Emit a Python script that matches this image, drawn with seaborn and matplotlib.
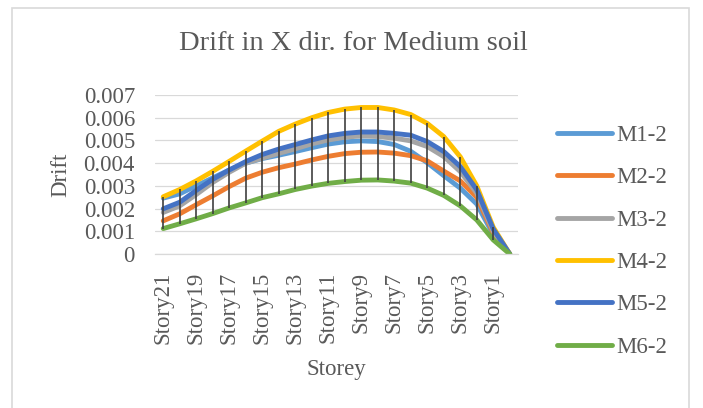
import numpy as np
import pandas as pd
import matplotlib
matplotlib.use("Agg")
import matplotlib.pyplot as plt
import seaborn as sns
from matplotlib.patches import Rectangle
from matplotlib.ticker import FuncFormatter

# ---------------- data ----------------
storeys = ["Story21", "Story20", "Story19", "Story18", "Story17", "Story16", "Story15",
           "Story14", "Story13", "Story12", "Story11", "Story10", "Story9", "Story8",
           "Story7", "Story6", "Story5", "Story4", "Story3", "Story2", "Story1", "Base"]

m1_2 = [0.00246, 0.00265, 0.00300, 0.00335, 0.00370, 0.00400, 0.00420, 0.00435, 0.00451, 0.00468, 0.00484,
        0.00494, 0.00498, 0.00495, 0.00482, 0.00452, 0.00402, 0.00345, 0.00290, 0.00220, 0.00085, 0.0]
m2_2 = [0.00146, 0.00177, 0.00217, 0.00256, 0.00297, 0.00334, 0.00360, 0.00380, 0.00396, 0.00414, 0.00430,
        0.00442, 0.00448, 0.00449, 0.00444, 0.00433, 0.00410, 0.00365, 0.00322, 0.00250, 0.00092, 0.0]
m3_2 = [0.00183, 0.00212, 0.00262, 0.00315, 0.00360, 0.00400, 0.00422, 0.00443, 0.00463, 0.00485, 0.00502,
        0.00514, 0.00520, 0.00517, 0.00510, 0.00498, 0.00473, 0.00429, 0.00363, 0.00268, 0.00100, 0.0]
m4_2 = [0.00252, 0.00284, 0.00322, 0.00364, 0.00408, 0.00453, 0.00497, 0.00540, 0.00572, 0.00600, 0.00623,
        0.00638, 0.00645, 0.00645, 0.00634, 0.00614, 0.00575, 0.00517, 0.00428, 0.00300, 0.00118, 0.0]
m5_2 = [0.00199, 0.00228, 0.00280, 0.00329, 0.00370, 0.00407, 0.00438, 0.00462, 0.00482, 0.00502, 0.00520,
        0.00531, 0.00537, 0.00537, 0.00531, 0.00523, 0.00495, 0.00451, 0.00385, 0.00283, 0.00110, 0.0]
m6_2 = [0.00112, 0.00133, 0.00155, 0.00178, 0.00203, 0.00225, 0.00248, 0.00265, 0.00284, 0.00299, 0.00311,
        0.00319, 0.00325, 0.00326, 0.00321, 0.00312, 0.00290, 0.00258, 0.00212, 0.00150, 0.00062, 0.0]

series_names = ["M1-2", "M2-2", "M3-2", "M4-2", "M5-2", "M6-2"]
series_values = [m1_2, m2_2, m3_2, m4_2, m5_2, m6_2]
colors = ["#5B9BD5", "#ED7D31", "#A5A5A5", "#FFC000", "#4472C4", "#70AD47"]

y_ticks = [0, 0.001, 0.002, 0.003, 0.004, 0.005, 0.006, 0.007]

title = "Drift in X dir. for Medium soil"
x_label = "Storey"
y_label = "Drift"

# ---------------- build table ----------------
frames = []
for name, vals in zip(series_names, series_values):
    frames.append(pd.DataFrame({"Storey": storeys, "Drift": vals, "Series": name}))
df = pd.concat(frames, ignore_index=True)

# ---------------- style ----------------
sns.set_theme(style="white")
plt.rcParams["font.family"] = ["Liberation Serif", "DejaVu Serif"]
text_color = "#595959"
grid_color = "#D9D9D9"
FS = 16.5

W, H = 703, 408
fig = plt.figure(figsize=(W / 100, H / 100), dpi=100)
fig.patch.set_facecolor("white")

left, right, top, bottom = 155, 518, 95, 254
ax = fig.add_axes([left / W, 1 - bottom / H, (right - left) / W, (bottom - top) / H])
ax.set_facecolor("white")

sns.lineplot(data=df, x="Storey", y="Drift", hue="Series", hue_order=series_names,
             palette=dict(zip(series_names, colors)), linewidth=3.5, sort=False,
             ax=ax, legend=True, zorder=2)
for ln in ax.lines:
    ln.set_solid_capstyle("round")
    ln.set_solid_joinstyle("round")

# high-low lines
arr = np.array(series_values)
ax.vlines(storeys, arr.min(axis=0), arr.max(axis=0), colors="#404040", linewidth=1.2, zorder=4)

# axes
ax.set_xlim(-0.5, len(storeys) - 0.5)
ax.set_ylim(0, 0.007)
ax.set_yticks(y_ticks)
ax.yaxis.set_major_formatter(FuncFormatter(lambda v, _: "0" if abs(v) < 1e-12 else f"{v:.3f}"))
ax.set_xticks(range(0, len(storeys), 2))
ax.set_xticklabels(storeys[0::2], rotation=90)
ax.tick_params(axis="both", length=0, labelsize=FS, labelcolor=text_color)
ax.tick_params(axis="y", pad=14.4)
ax.tick_params(axis="x", pad=13)
ax.grid(axis="y", color=grid_color, linewidth=0.9)
ax.set_axisbelow(True)
for s in ["left", "right", "top"]:
    ax.spines[s].set_visible(False)
ax.spines["bottom"].set_color(grid_color)
ax.spines["bottom"].set_linewidth(0.9)

ax.set_xlabel(x_label, fontsize=FS, color=text_color)
ax.xaxis.label.set_va("center")
ax.xaxis.set_label_coords(0.5, (bottom - 370) / (bottom - top))
ax.set_ylabel(y_label, fontsize=FS, color=text_color)
ax.yaxis.label.set_va("center")
ax.yaxis.set_label_coords((61 - left) / (right - left), 0.5)

# legend
handles, labels = ax.get_legend_handles_labels()
for h in handles:
    h.set_linewidth(3.5)
    h.set_solid_capstyle("round")
leg = ax.legend(handles, labels, loc="upper left", bbox_to_anchor=(557 / W, 1 - 125 / H),
                bbox_transform=fig.transFigure, frameon=False, fontsize=FS,
                handlelength=2.4, handletextpad=0.2, labelspacing=0.93,
                borderpad=0, borderaxespad=0)
for t in leg.get_texts():
    t.set_color(text_color)

# title
fig.text(353 / W, 1 - 44 / H, title, ha="center", va="center", fontsize=20.5, color=text_color)

# chart border
fig.add_artist(Rectangle((12 / W, -0.05), (689 - 12) / W, 1.05 - 8 / H, transform=fig.transFigure,
                         fill=False, edgecolor=grid_color, linewidth=1.2))

fig.savefig("out.png", dpi=100, facecolor="white")
